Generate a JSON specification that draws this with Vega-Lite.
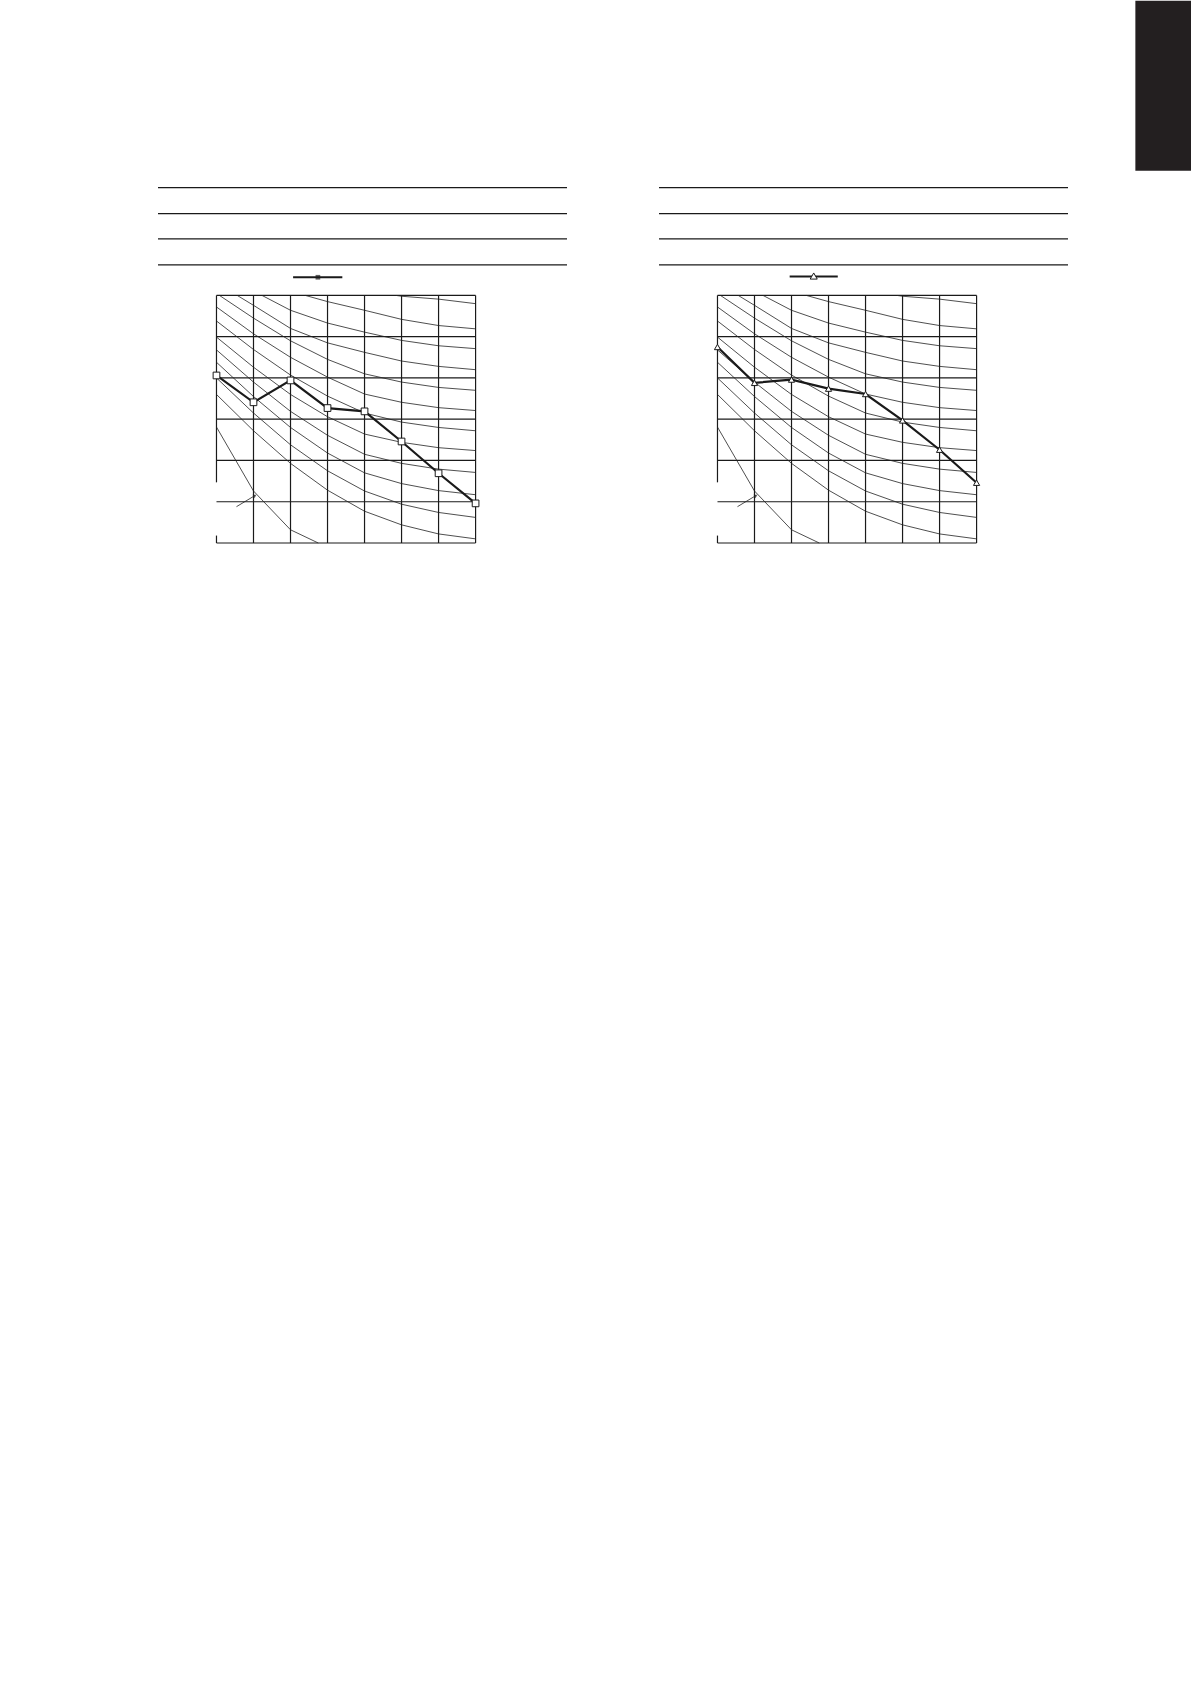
{
  "$schema": "https://vega.github.io/schema/vega-lite/v6.json",
  "autosize": {"type": "pad"},
  "padding": {"left": 157, "top": 0, "right": 0, "bottom": 0},
  "background": "white",
  "bounds": "flush",
  "spacing": 92,
  "datasets": {
    "frame": [
      {"x": -1.58, "x2": 9.47, "y": 8.61, "y2": 8.61},
      {"x": -1.58, "x2": 9.47, "y": 7.98, "y2": 7.98},
      {"x": -1.58, "x2": 9.47, "y": 7.37, "y2": 7.37},
      {"x": -1.58, "x2": 9.47, "y": 6.74, "y2": 6.74},
      {"x": 0, "x2": 7, "y": 0, "y2": 0},
      {"x": 0, "x2": 7, "y": 1, "y2": 1},
      {"x": 0, "x2": 7, "y": 2, "y2": 2},
      {"x": 0, "x2": 7, "y": 3, "y2": 3},
      {"x": 0, "x2": 7, "y": 4, "y2": 4},
      {"x": 0, "x2": 7, "y": 5, "y2": 5},
      {"x": 0, "x2": 7, "y": 6, "y2": 6},
      {"x": 0, "x2": 0, "y": 1.47, "y2": 6},
      {"x": 0, "x2": 0, "y": 0, "y2": 0.18},
      {"x": 1, "x2": 1, "y": 0, "y2": 6},
      {"x": 2, "x2": 2, "y": 0, "y2": 6},
      {"x": 3, "x2": 3, "y": 0, "y2": 6},
      {"x": 4, "x2": 4, "y": 0, "y2": 6},
      {"x": 5, "x2": 5, "y": 0, "y2": 6},
      {"x": 6, "x2": 6, "y": 0, "y2": 6},
      {"x": 7, "x2": 7, "y": 0, "y2": 6}
    ],
    "curves": [
      {"c": 1, "x": 4.85, "y": 6.0}, {"c": 1, "x": 5, "y": 5.98}, {"c": 1, "x": 6, "y": 5.91}, {"c": 1, "x": 7, "y": 5.8},
      {"c": 2, "x": 2.4, "y": 6.0}, {"c": 2, "x": 3, "y": 5.85}, {"c": 2, "x": 4, "y": 5.64}, {"c": 2, "x": 5, "y": 5.42}, {"c": 2, "x": 6, "y": 5.27}, {"c": 2, "x": 7, "y": 5.19},
      {"c": 3, "x": 1.23, "y": 6.0}, {"c": 3, "x": 2, "y": 5.64}, {"c": 3, "x": 3, "y": 5.33}, {"c": 3, "x": 4, "y": 5.11}, {"c": 3, "x": 5, "y": 4.91}, {"c": 3, "x": 6, "y": 4.78}, {"c": 3, "x": 7, "y": 4.71},
      {"c": 4, "x": 0.56, "y": 6.0}, {"c": 4, "x": 1, "y": 5.76}, {"c": 4, "x": 2, "y": 5.2}, {"c": 4, "x": 3, "y": 4.85}, {"c": 4, "x": 4, "y": 4.62}, {"c": 4, "x": 5, "y": 4.41}, {"c": 4, "x": 6, "y": 4.28}, {"c": 4, "x": 7, "y": 4.2},
      {"c": 5, "x": 0.08, "y": 6.0}, {"c": 5, "x": 1, "y": 5.45}, {"c": 5, "x": 2, "y": 4.9}, {"c": 5, "x": 3, "y": 4.45}, {"c": 5, "x": 4, "y": 4.1}, {"c": 5, "x": 5, "y": 3.9}, {"c": 5, "x": 6, "y": 3.77}, {"c": 5, "x": 7, "y": 3.7},
      {"c": 6, "x": 0, "y": 5.72}, {"c": 6, "x": 1, "y": 5.07}, {"c": 6, "x": 2, "y": 4.5}, {"c": 6, "x": 3, "y": 4.02}, {"c": 6, "x": 4, "y": 3.61}, {"c": 6, "x": 5, "y": 3.41}, {"c": 6, "x": 6, "y": 3.28}, {"c": 6, "x": 7, "y": 3.21},
      {"c": 7, "x": 0, "y": 5.38}, {"c": 7, "x": 1, "y": 4.69}, {"c": 7, "x": 2, "y": 4.07}, {"c": 7, "x": 3, "y": 3.56}, {"c": 7, "x": 4, "y": 3.15}, {"c": 7, "x": 5, "y": 2.93}, {"c": 7, "x": 6, "y": 2.8}, {"c": 7, "x": 7, "y": 2.72},
      {"c": 8, "x": 0, "y": 4.99}, {"c": 8, "x": 1, "y": 4.26}, {"c": 8, "x": 2, "y": 3.6}, {"c": 8, "x": 3, "y": 3.06}, {"c": 8, "x": 4, "y": 2.64}, {"c": 8, "x": 5, "y": 2.44}, {"c": 8, "x": 6, "y": 2.31}, {"c": 8, "x": 7, "y": 2.24},
      {"c": 9, "x": 0, "y": 4.68}, {"c": 9, "x": 1, "y": 3.9}, {"c": 9, "x": 2, "y": 3.19}, {"c": 9, "x": 3, "y": 2.61}, {"c": 9, "x": 4, "y": 2.15}, {"c": 9, "x": 5, "y": 1.93}, {"c": 9, "x": 6, "y": 1.79}, {"c": 9, "x": 7, "y": 1.71},
      {"c": 10, "x": 0, "y": 4.38}, {"c": 10, "x": 1, "y": 3.55}, {"c": 10, "x": 2, "y": 2.8}, {"c": 10, "x": 3, "y": 2.18}, {"c": 10, "x": 4, "y": 1.7}, {"c": 10, "x": 5, "y": 1.44}, {"c": 10, "x": 6, "y": 1.27}, {"c": 10, "x": 7, "y": 1.17},
      {"c": 11, "x": 0, "y": 4.0}, {"c": 11, "x": 1, "y": 3.15}, {"c": 11, "x": 2, "y": 2.38}, {"c": 11, "x": 3, "y": 1.75}, {"c": 11, "x": 4, "y": 1.26}, {"c": 11, "x": 5, "y": 0.94}, {"c": 11, "x": 6, "y": 0.74}, {"c": 11, "x": 7, "y": 0.62},
      {"c": 12, "x": 0, "y": 3.6}, {"c": 12, "x": 1, "y": 2.72}, {"c": 12, "x": 2, "y": 1.93}, {"c": 12, "x": 3, "y": 1.28}, {"c": 12, "x": 4, "y": 0.77}, {"c": 12, "x": 5, "y": 0.44}, {"c": 12, "x": 6, "y": 0.22}, {"c": 12, "x": 7, "y": 0.1},
      {"c": 13, "x": 0, "y": 2.81}, {"c": 13, "x": 1, "y": 1.26}, {"c": 13, "x": 2, "y": 0.32}, {"c": 13, "x": 2.75, "y": 0}
    ],
    "arrow": [{"x": 0.54, "x2": 1.04, "y": 0.88, "y2": 1.15}],
    "arrowhead": [{"x": 1.04, "y": 1.15}],
    "legendLeft": [{"x": 2.07, "x2": 3.4, "y": 6.44, "y2": 6.44}],
    "legendLeftMark": [{"x": 2.74, "y": 6.44}],
    "legendRight": [{"x": 1.95, "x2": 3.25, "y": 6.46, "y2": 6.46}],
    "legendRightMark": [{"x": 2.6, "y": 6.47}],
    "squares": [
      {"x": 0, "y": 4.06}, {"x": 1, "y": 3.41}, {"x": 2, "y": 3.94}, {"x": 3, "y": 3.27},
      {"x": 4, "y": 3.19}, {"x": 5, "y": 2.46}, {"x": 6, "y": 1.69}, {"x": 7, "y": 0.96}
    ],
    "triangles": [
      {"x": 0, "y": 4.75}, {"x": 1, "y": 3.88}, {"x": 2, "y": 3.96}, {"x": 3, "y": 3.74},
      {"x": 4, "y": 3.61}, {"x": 5, "y": 2.97}, {"x": 6, "y": 2.26}, {"x": 7, "y": 1.46}
    ],
    "tab": [{"x": 11.29, "x2": 12.9, "y": 9.02, "y2": 13.14}]
  },
  "hconcat": [
    {
      "width": 409,
      "height": 359,
      "encoding": {
        "x": {"field": "x", "type": "quantitative", "scale": {"domain": [-1.58, 9.47], "nice": false, "zero": false}, "axis": null},
        "y": {"field": "y", "type": "quantitative", "scale": {"domain": [0, 8.7], "nice": false, "zero": false}, "axis": null}
      },
      "layer": [
        {"data": {"name": "frame"}, "mark": {"type": "rule", "stroke": "#1a1a1a", "strokeWidth": 1.2}, "encoding": {"x2": {"field": "x2"}, "y2": {"field": "y2"}}},
        {"data": {"name": "curves"}, "mark": {"type": "line", "stroke": "#222222", "strokeWidth": 0.8}, "encoding": {"detail": {"field": "c"}}},
        {"data": {"name": "arrow"}, "mark": {"type": "rule", "stroke": "#222222", "strokeWidth": 0.8}, "encoding": {"x2": {"field": "x2"}, "y2": {"field": "y2"}}},
        {"data": {"name": "arrowhead"}, "mark": {"type": "point", "shape": "triangle-right", "angle": 329, "size": 16, "filled": true, "color": "#222222"}},
        {"data": {"name": "legendLeft"}, "mark": {"type": "rule", "stroke": "#1a1a1a", "strokeWidth": 2}, "encoding": {"x2": {"field": "x2"}, "y2": {"field": "y2"}}},
        {"data": {"name": "legendLeftMark"}, "mark": {"type": "point", "shape": "square", "size": 22, "filled": true, "color": "#1a1a1a"}},
        {"data": {"name": "squares"}, "mark": {"type": "line", "stroke": "#1a1a1a", "strokeWidth": 2.2}},
        {"data": {"name": "squares"}, "mark": {"type": "point", "shape": "square", "size": 45, "filled": true, "fill": "white", "stroke": "#1a1a1a", "strokeWidth": 1, "opacity": 1}}
      ]
    },
    {
      "width": 409,
      "height": 359,
      "encoding": {
        "x": {"field": "x", "type": "quantitative", "scale": {"domain": [-1.58, 9.47], "nice": false, "zero": false}, "axis": null},
        "y": {"field": "y", "type": "quantitative", "scale": {"domain": [0, 8.7], "nice": false, "zero": false}, "axis": null}
      },
      "layer": [
        {"data": {"name": "tab"}, "mark": {"type": "rect", "color": "#231f20"}, "encoding": {"x2": {"field": "x2"}, "y2": {"field": "y2"}}},
        {"data": {"name": "frame"}, "mark": {"type": "rule", "stroke": "#1a1a1a", "strokeWidth": 1.2}, "encoding": {"x2": {"field": "x2"}, "y2": {"field": "y2"}}},
        {"data": {"name": "curves"}, "mark": {"type": "line", "stroke": "#222222", "strokeWidth": 0.8}, "encoding": {"detail": {"field": "c"}}},
        {"data": {"name": "arrow"}, "mark": {"type": "rule", "stroke": "#222222", "strokeWidth": 0.8}, "encoding": {"x2": {"field": "x2"}, "y2": {"field": "y2"}}},
        {"data": {"name": "arrowhead"}, "mark": {"type": "point", "shape": "triangle-right", "angle": 329, "size": 16, "filled": true, "color": "#222222"}},
        {"data": {"name": "legendRight"}, "mark": {"type": "rule", "stroke": "#1a1a1a", "strokeWidth": 2}, "encoding": {"x2": {"field": "x2"}, "y2": {"field": "y2"}}},
        {"data": {"name": "legendRightMark"}, "mark": {"type": "point", "shape": "triangle-up", "size": 50, "filled": true, "fill": "white", "stroke": "#1a1a1a", "strokeWidth": 1, "opacity": 1}},
        {"data": {"name": "triangles"}, "mark": {"type": "line", "stroke": "#1a1a1a", "strokeWidth": 2.2}},
        {"data": {"name": "triangles"}, "mark": {"type": "point", "shape": "triangle-up", "size": 38, "filled": true, "fill": "white", "stroke": "#1a1a1a", "strokeWidth": 1, "opacity": 1}}
      ]
    }
  ],
  "config": {"view": {"stroke": null}}
}
